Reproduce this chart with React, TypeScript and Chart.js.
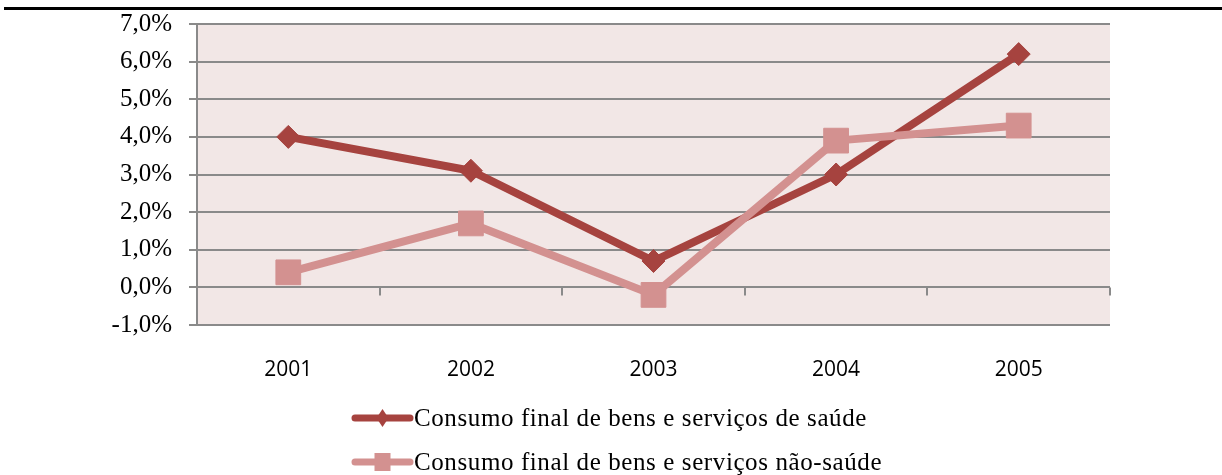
import React, { useEffect, useRef } from "react";
import { Chart, registerables } from "chart.js";

Chart.register(...registerables);

const years = ["2001", "2002", "2003", "2004", "2005"];
const saude = [4.0, 3.1, 0.7, 3.0, 6.2];
const naoSaude = [0.4, 1.7, -0.2, 3.9, 4.3];
const seriesLabels = [
  "Consumo final de bens e serviços de saúde",
  "Consumo final de bens e serviços não-saúde",
];
const yMin = -1;
const yMax = 7;
const yStep = 1;

const DARK = "#A6433F";
const LIGHT = "#D39190";
const GRID = "#8A8A8A";
const PLOT_BG = "#F2E7E6";

const plotBgPlugin = {
  id: "plotBg",
  beforeDraw(chart: any) {
    const { ctx, chartArea } = chart;
    ctx.save();
    ctx.fillStyle = PLOT_BG;
    ctx.fillRect(chartArea.left, chartArea.top, chartArea.right - chartArea.left, chartArea.bottom - chartArea.top);
    ctx.restore();
  },
  beforeDatasetsDraw(chart: any) {
    // category-boundary tick marks along the zero line
    const { ctx, chartArea, scales } = chart;
    const y0 = scales.y.getPixelForValue(0);
    const n = years.length;
    const w = (chartArea.right - chartArea.left) / n;
    ctx.save();
    ctx.strokeStyle = GRID;
    ctx.lineWidth = 2;
    ctx.beginPath();
    for (let i = 0; i <= n; i++) {
      const x = Math.round(chartArea.left + i * w);
      ctx.moveTo(x, y0);
      ctx.lineTo(x, y0 + 8);
    }
    ctx.stroke();
    ctx.restore();
  },
  afterDraw(chart: any) {
    // custom legend: line sample with marker in the middle
    const { ctx, chartArea } = chart;
    const rows = chart.data.datasets;
    ctx.save();
    rows.forEach((ds: any, i: number) => {
      const y = chartArea.bottom + 93 + i * 44;
      const x1 = 355;
      const x2 = 410;
      ctx.strokeStyle = ds.borderColor;
      ctx.lineWidth = 7;
      ctx.lineCap = "round";
      ctx.beginPath();
      ctx.moveTo(x1, y);
      ctx.lineTo(x2, y);
      ctx.stroke();
      ctx.fillStyle = ds.borderColor;
      const cx = (x1 + x2) / 2;
      if (ds.pointStyle === "rectRot") {
        ctx.beginPath();
        ctx.moveTo(cx, y - 9);
        ctx.lineTo(cx + 6, y);
        ctx.lineTo(cx, y + 9);
        ctx.lineTo(cx - 6, y);
        ctx.closePath();
        ctx.fill();
      } else {
        ctx.fillRect(cx - 8, y - 9, 16, 18);
      }
      ctx.fillStyle = "#000";
      ctx.font = '25px "Liberation Serif"';
      (ctx as any).letterSpacing = "0.6px";
      ctx.textAlign = "left";
      ctx.textBaseline = "middle";
      ctx.fillText(ds.label, 414, y + 1);
      (ctx as any).letterSpacing = "0px";
    });
    ctx.restore();
  },
};

export default function App() {
  const ref = useRef<HTMLCanvasElement | null>(null);

  useEffect(() => {
    if (!ref.current) return;
    const chart = new Chart(ref.current, {
      type: "line",
      data: {
        labels: years,
        datasets: [
          {
            label: seriesLabels[0],
            data: saude,
            borderColor: DARK,
            backgroundColor: DARK,
            borderWidth: 8,
            borderJoinStyle: "round",
            borderCapStyle: "round",
            pointStyle: "rectRot",
            pointRadius: 11.5,
            pointBackgroundColor: DARK,
            pointBorderColor: DARK,
            pointBorderWidth: 1,
            tension: 0,
            order: 1,
          },
          {
            label: seriesLabels[1],
            data: naoSaude,
            borderColor: LIGHT,
            backgroundColor: LIGHT,
            borderWidth: 8,
            borderJoinStyle: "round",
            borderCapStyle: "round",
            pointStyle: "rect",
            pointRadius: 17.5,
            pointBackgroundColor: LIGHT,
            pointBorderColor: LIGHT,
            pointBorderWidth: 1,
            tension: 0,
            order: 0,
          },
        ],
      },
      options: {
        animation: false,
        responsive: false,
        layout: { padding: { top: 24, right: 112, left: 0, bottom: 0 } },
        plugins: {
          legend: { display: false },
          tooltip: { enabled: false },
          title: { display: false },
        },
        scales: {
          x: {
            type: "category",
            offset: true,
            grid: { display: false },
            border: { display: false },
            ticks: {
              color: "#000",
              font: { family: "Open Sans", size: 21 },
              padding: 24,
              maxRotation: 0,
            },
            afterFit(scale: any) {
              scale.height = 150;
            },
          },
          y: {
            min: yMin,
            max: yMax,
            grid: {
              color: GRID,
              lineWidth: 2,
              tickLength: 8,
              drawTicks: true,
            },
            border: { display: true, color: GRID, width: 2 },
            ticks: {
              stepSize: yStep,
              color: "#000",
              font: { family: "Liberation Serif", size: 25 },
              padding: 17,
              callback: (v: any) => Number(v).toFixed(1).replace(".", ",") + "%",
            },
            afterFit(scale: any) {
              scale.width = 197;
              scale.paddingTop = 0;
              scale.paddingBottom = 0;
            },
          },
        },
      },
      plugins: [plotBgPlugin],
    } as any);
    return () => chart.destroy();
  }, []);

  return (
    <div style={{ position: "absolute", left: 0, top: 0, width: 1222, height: 475, background: "#fff" }}>
      <div style={{ position: "absolute", left: 4, top: 7, width: 1218, height: 3, background: "#000" }} />
      <canvas ref={ref} width={1222} height={475} style={{ position: "absolute", left: 0, top: 0 }} />
    </div>
  );
}
